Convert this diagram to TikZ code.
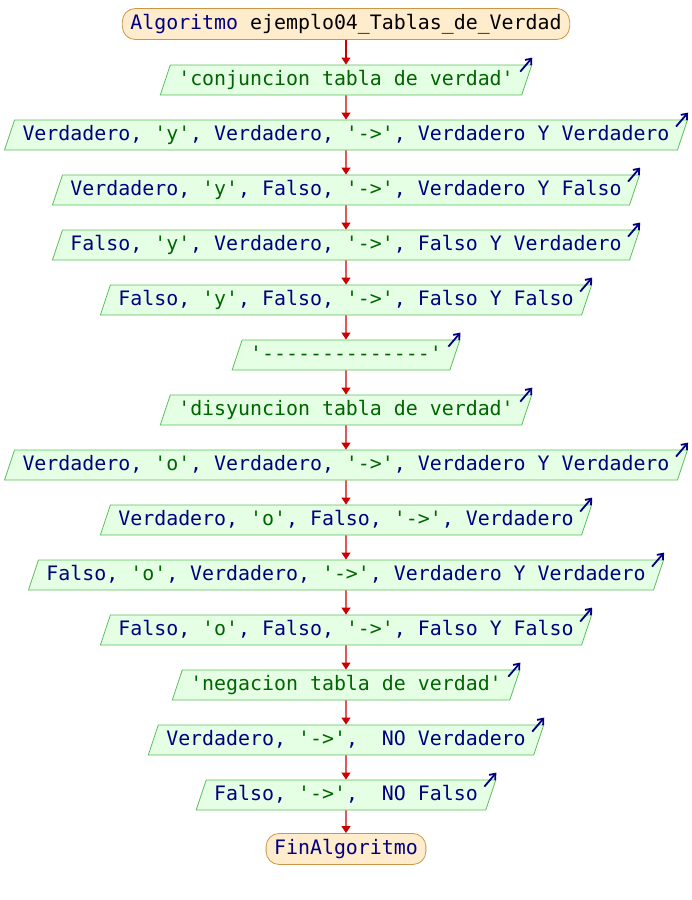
\documentclass[tikz,border=0pt]{standalone}
\usepackage{fontspec}
\setmonofont{DejaVu Sans Mono}
\usetikzlibrary{shapes.geometric,arrows.meta,calc}
\definecolor{PseKeyword}{RGB}{0,0,128}
\definecolor{PseString}{RGB}{0,100,0}
\definecolor{PseFlow}{RGB}{204,0,0}
\definecolor{PseIOFill}{RGB}{228,255,228}
\definecolor{PseIODraw}{RGB}{90,190,90}
\definecolor{PseEndFill}{RGB}{255,236,204}
\definecolor{PseEndDraw}{RGB}{205,150,70}
\newcommand{\psefont}{\ttfamily\fontsize{19.9}{24}\selectfont}
\newcommand{\pstr}[1]{\textcolor{PseString}{#1}}

\begin{document}
\begin{tikzpicture}[x=1pt,y=-1pt,
  every node/.style={font=\psefont, text=PseKeyword, text height=14pt, text depth=4pt},
  terminal/.style={draw=PseEndDraw, fill=PseEndFill, rounded corners=13pt, inner xsep=8pt, inner ysep=6.5pt, line width=0.8pt},
  salida/.style={trapezium, trapezium left angle=71.57, trapezium right angle=108.43, draw=PseIODraw, fill=PseIOFill, inner xsep=8pt, inner ysep=6pt, line width=0.8pt},
  flujo/.style={draw=PseFlow, line width=1.2pt, -{Triangle[length=7pt,width=9pt]}},
  pantalla/.style={draw=PseKeyword, line width=1.8pt, -{Straight Barb[length=5pt,width=8pt]}}]
  \useasboundingbox (0,0) rectangle (692,900);

  \node[terminal] (inicio) at (346,24) {Algoritmo \textcolor{black}{ejemplo04\_Tablas\_de\_Verdad}};
  \node[salida] (s1) at (346,80) {\pstr{'conjuncion tabla de verdad'}};
  \node[salida] (s2) at (346,135) {Verdadero, \pstr{'y'}, Verdadero, \pstr{'->'}, Verdadero Y Verdadero};
  \node[salida] (s3) at (346,190) {Verdadero, \pstr{'y'}, Falso, \pstr{'->'}, Verdadero Y Falso};
  \node[salida] (s4) at (346,245) {Falso, \pstr{'y'}, Verdadero, \pstr{'->'}, Falso Y Verdadero};
  \node[salida] (s5) at (346,300) {Falso, \pstr{'y'}, Falso, \pstr{'->'}, Falso Y Falso};
  \node[salida] (s6) at (346,355) {\pstr{'--------------'}};
  \node[salida] (s7) at (346,410) {\pstr{'disyuncion tabla de verdad'}};
  \node[salida] (s8) at (346,465) {Verdadero, \pstr{'o'}, Verdadero, \pstr{'->'}, Verdadero Y Verdadero};
  \node[salida] (s9) at (346,520) {Verdadero, \pstr{'o'}, Falso, \pstr{'->'}, Verdadero};
  \node[salida] (s10) at (346,575) {Falso, \pstr{'o'}, Verdadero, \pstr{'->'}, Verdadero Y Verdadero};
  \node[salida] (s11) at (346,630) {Falso, \pstr{'o'}, Falso, \pstr{'->'}, Falso Y Falso};
  \node[salida] (s12) at (346,685) {\pstr{'negacion tabla de verdad'}};
  \node[salida] (s13) at (346,740) {Verdadero, \pstr{'->'},\ \ NO Verdadero};
  \node[salida] (s14) at (346,795) {Falso, \pstr{'->'},\ \ NO Falso};
  \node[terminal] (fin) at (346,849) {FinAlgoritmo};

  % flechas de flujo
  \draw[flujo] (inicio) -- (s1);
  \foreach \a/\b in {s1/s2,s2/s3,s3/s4,s4/s5,s5/s6,s6/s7,s7/s8,s8/s9,s9/s10,s10/s11,s11/s12,s12/s13,s13/s14}
    \draw[flujo] (\a) -- (\b);
  \draw[flujo] (s14) -- (fin);

  % marcas de salida por pantalla
  \foreach \n in {1,...,14}
    \draw[pantalla] ($(s\n.top right corner)+(-12,7)$) -- ($(s\n.top right corner)+(0,-7)$);
\end{tikzpicture}
\end{document}
